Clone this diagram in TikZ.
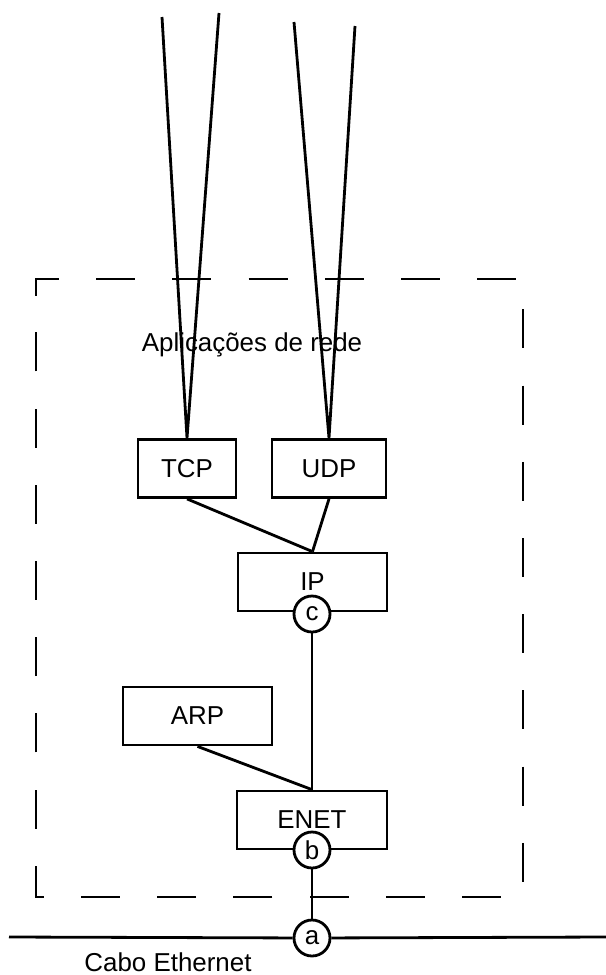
\documentclass[tikz,border=0pt]{standalone}
\usepackage{fontspec}
\setmainfont{Liberation Sans}
\usepackage{tikz}

\begin{document}
\begin{tikzpicture}[x=1bp, y=-1bp, line width=2.8bp,
    layer/.style={rectangle, draw, minimum height=58bp, inner sep=0pt, font=\fontsize{26}{30}\selectfont},
    port/.style={circle, draw, fill=white, minimum size=36bp, inner sep=0pt, font=\fontsize{26}{30}\selectfont},
    caption/.style={inner sep=0pt, font=\fontsize{26}{30}\selectfont}]
    \useasboundingbox (0,0) rectangle (606,975);

    % host boundary
    \draw[dash pattern=on 39bp off 37.2bp] (36,295) -- (36,279) -- (523,279) -- (523,897) -- (36,897) -- cycle;

    \node[caption] (apps) at (252,345) {Aplicações de rede};
    \node[caption] (cabo) at (168,962) {Cabo Ethernet};

    \node[layer, minimum width=98bp] (tcp) at (187,468.5) {TCP};
    \node[layer, minimum width=114bp] (udp) at (329,468.5) {UDP};
    \node[layer, minimum width=149bp] (ip) at (312.5,582) {IP};
    \node[layer, minimum width=149bp] (arp) at (197.5,716) {ARP};
    \node[layer, minimum width=150bp] (enet) at (312,820) {ENET};

    \node[port] (c) at (312,614) {c};
    \node[port] (b) at (312,850) {b};
    \node[port] (a) at (312,938) {a};

    \coordinate (tcpL) at (162,17);
    \coordinate (tcpR) at (219,13);
    \coordinate (udpL) at (294,22);
    \coordinate (udpR) at (355,26);
    \coordinate (caboL) at (9,937);
    \coordinate (caboR) at (606,937);

    \draw (tcpL) -- (tcp.north) -- (tcpR);
    \draw (udpL) -- (udp.north) -- (udpR);
    \draw (tcp.south) -- (ip.north);
    \draw (udp.south) -- (ip.north);
    \draw (c) -- (enet.north);
    \draw (arp.south) -- (enet.north);
    \draw (b) -- (a);
    \draw (caboL) -- (a) -- (caboR);
\end{tikzpicture}
\end{document}
